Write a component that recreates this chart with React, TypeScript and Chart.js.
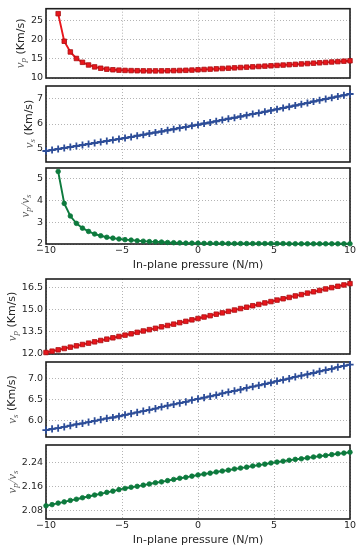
import React, { useEffect, useRef } from 'react';
import { Chart, registerables } from 'chart.js';

Chart.register(...registerables);

// ---------- data ----------
const pressure = [
  -10, -9.6, -9.2, -8.8, -8.4, -8, -7.6, -7.2, -6.8, -6.4,
  -6, -5.6, -5.2, -4.8, -4.4, -4, -3.6, -3.2, -2.8, -2.4,
  -2, -1.6, -1.2, -0.8, -0.4, 0, 0.4, 0.8, 1.2, 1.6,
  2, 2.4, 2.8, 3.2, 3.6, 4, 4.4, 4.8, 5.2, 5.6,
  6, 6.4, 6.8, 7.2, 7.6, 8, 8.4, 8.8, 9.2, 9.6,
  10,
];

const vpUpper = [
  null, null, 26.8, 19.6, 16.8, 15.1, 14.1, 13.4, 12.9, 12.55,
  12.3, 12.15, 12.05, 11.98, 11.93, 11.9, 11.87, 11.86, 11.86, 11.87,
  11.89, 11.92, 11.96, 12.01, 12.07, 12.15, 12.23, 12.31, 12.39, 12.48,
  12.56, 12.65, 12.74, 12.83, 12.92, 13.01, 13.1, 13.19, 13.29, 13.38,
  13.48, 13.57, 13.67, 13.77, 13.87, 13.97, 14.07, 14.18, 14.28, 14.39,
  14.5,
];

const vsUpper = [
  4.92, 4.96, 5.0, 5.04, 5.08, 5.12, 5.16, 5.2, 5.24, 5.28,
  5.32, 5.36, 5.4, 5.44, 5.48, 5.53, 5.57, 5.62, 5.66, 5.7,
  5.75, 5.79, 5.84, 5.88, 5.93, 5.97, 6.02, 6.06, 6.11, 6.16,
  6.21, 6.25, 6.3, 6.35, 6.4, 6.44, 6.49, 6.54, 6.59, 6.64,
  6.69, 6.74, 6.79, 6.84, 6.9, 6.95, 7.0, 7.05, 7.1, 7.15,
  7.2,
];

const ratioUpper = [
  null, null, 5.34, 3.87, 3.29, 2.95, 2.73, 2.58, 2.46, 2.38,
  2.31, 2.27, 2.23, 2.2, 2.18, 2.15, 2.13, 2.11, 2.1, 2.09,
  2.07, 2.06, 2.05, 2.04, 2.04, 2.04, 2.03, 2.03, 2.03, 2.03,
  2.02, 2.02, 2.02, 2.02, 2.02, 2.02, 2.02, 2.02, 2.02, 2.02,
  2.01, 2.01, 2.01, 2.01, 2.01, 2.01, 2.01, 2.01, 2.01, 2.01,
  2.01,
];

const vpLower = [
  12.1, 12.19, 12.28, 12.37, 12.46, 12.55, 12.64, 12.73, 12.82, 12.91,
  13.0, 13.09, 13.18, 13.27, 13.36, 13.46, 13.55, 13.64, 13.73, 13.83,
  13.92, 14.01, 14.11, 14.2, 14.3, 14.39, 14.49, 14.58, 14.68, 14.77,
  14.87, 14.96, 15.06, 15.15, 15.25, 15.34, 15.44, 15.53, 15.63, 15.72,
  15.81, 15.91, 16.0, 16.1, 16.19, 16.28, 16.38, 16.47, 16.56, 16.65,
  16.74,
];

const vsLower = [
  5.78, 5.81, 5.83, 5.86, 5.89, 5.92, 5.94, 5.97, 6.0, 6.03,
  6.06, 6.08, 6.11, 6.14, 6.17, 6.2, 6.23, 6.26, 6.29, 6.33,
  6.36, 6.39, 6.42, 6.45, 6.49, 6.52, 6.55, 6.58, 6.61, 6.65,
  6.68, 6.71, 6.74, 6.78, 6.81, 6.84, 6.87, 6.9, 6.94, 6.97,
  7.0, 7.04, 7.07, 7.1, 7.13, 7.17, 7.2, 7.23, 7.27, 7.3,
  7.33,
];

const ratioLower = [
  2.097, 2.101, 2.106, 2.11, 2.115, 2.119, 2.124, 2.128, 2.133, 2.137,
  2.142, 2.146, 2.151, 2.155, 2.159, 2.162, 2.166, 2.17, 2.174, 2.177,
  2.181, 2.185, 2.189, 2.192, 2.196, 2.2, 2.203, 2.206, 2.21, 2.213,
  2.216, 2.22, 2.223, 2.226, 2.23, 2.233, 2.236, 2.24, 2.243, 2.246,
  2.249, 2.252, 2.254, 2.257, 2.26, 2.263, 2.265, 2.268, 2.271, 2.273,
  2.276,
];

const xTicks = [-10, -5, 0, 5, 10];
const vpUpperTicks = [10, 15, 20, 25];
const vsUpperTicks = [5, 6, 7];
const ratioUpperTicks = [2, 3, 4, 5];
const vpLowerTicks = [12.0, 13.5, 15.0, 16.5];
const vsLowerTicks = [6.0, 6.5, 7.0];
const ratioLowerTicks = [2.08, 2.16, 2.24];

const xTitle = 'In-plane pressure (N/m)';

// ---------- styling ----------
const RED = '#e8161c';
const BLUE = '#2d4d98';
const GREEN = '#0d7a3d';
const TEXT = '#262626';
const MATH = '#5a5a5a';
const FONT = '"DejaVu Sans", sans-serif';

type Part = { t: string; k: 'math' | 'sub' | 'text' };

const partsVelocity = (sub: string): Part[] => [
  { t: 'v', k: 'math' },
  { t: sub, k: 'sub' },
  { t: ' (Km/s)', k: 'text' },
];
const partsRatio: Part[] = [
  { t: 'v', k: 'math' },
  { t: 'p', k: 'sub' },
  { t: '/', k: 'math' },
  { t: 'v', k: 'math' },
  { t: 's', k: 'sub' },
];

type Panel = {
  top: number; // chart area top
  bottom: number; // chart area bottom
  values: (number | null)[];
  yMin: number;
  yMax: number;
  yTicks: number[];
  dec: number;
  color: string;
  marker: 'rect' | 'cross' | 'circle';
  showX: boolean;
  titleParts: Part[];
  titleX: number;
};

const panels: Panel[] = [
  { top: 3, bottom: 78, values: vpUpper, yMin: 10, yMax: 28.1, yTicks: vpUpperTicks, dec: 0, color: RED, marker: 'rect', showX: false, titleParts: partsVelocity('p'), titleX: 21 },
  { top: 86, bottom: 162, values: vsUpper, yMin: 4.48, yMax: 7.52, yTicks: vsUpperTicks, dec: 0, color: BLUE, marker: 'cross', showX: false, titleParts: partsVelocity('s'), titleX: 29.5 },
  { top: 168, bottom: 244, values: ratioUpper, yMin: 2, yMax: 5.5, yTicks: ratioUpperTicks, dec: 0, color: GREEN, marker: 'circle', showX: true, titleParts: partsRatio, titleX: 25.5 },
  { top: 279, bottom: 354, values: vpLower, yMin: 12, yMax: 17.05, yTicks: vpLowerTicks, dec: 1, color: RED, marker: 'rect', showX: false, titleParts: partsVelocity('p'), titleX: 12.5 },
  { top: 362, bottom: 437, values: vsLower, yMin: 5.62, yMax: 7.39, yTicks: vsLowerTicks, dec: 1, color: BLUE, marker: 'cross', showX: false, titleParts: partsVelocity('s'), titleX: 12.5 },
  { top: 445, bottom: 519, values: ratioLower, yMin: 2.053, yMax: 2.3, yTicks: ratioLowerTicks, dec: 2, color: GREEN, marker: 'circle', showX: true, titleParts: partsRatio, titleX: 12.5 },
];

const X_AXIS_H = 28;

function fmtMinus(v: number) {
  return v < 0 ? '\u2212' + Math.abs(v) : String(v);
}

function PanelChart({ p }: { p: Panel }) {
  const ref = useRef<HTMLCanvasElement>(null);
  const padTop = Math.min(10, p.top);
  const canvasTop = p.top - padTop;
  const padBottom = p.showX ? 0 : 10;
  const height = padTop + (p.bottom - p.top) + (p.showX ? X_AXIS_H : 10);

  useEffect(() => {
    if (!ref.current) return;

    const framePlugin = {
      id: 'frame',
      beforeDatasetsDraw(chart: any) {
        const { ctx, chartArea: a } = chart;
        ctx.save();
        ctx.strokeStyle = '#1e1e1e';
        ctx.lineWidth = 1.6;
        ctx.strokeRect(a.left, a.top, a.right - a.left, a.bottom - a.top);
        ctx.restore();
      },
    };

    const titlePlugin = {
      id: 'ytitle',
      afterDraw(chart: any) {
        const { ctx, chartArea: a } = chart;
        const fontFor = (k: string) =>
          k === 'math'
            ? 'italic 13px "Liberation Serif", serif'
            : k === 'sub'
            ? 'italic 9px "Liberation Serif", serif'
            : `11px ${FONT}`;
        ctx.save();
        ctx.translate(p.titleX, (a.top + a.bottom) / 2);
        ctx.rotate(-Math.PI / 2);
        ctx.textBaseline = 'middle';
        ctx.textAlign = 'left';
        let total = 0;
        const widths = p.titleParts.map((part) => {
          ctx.font = fontFor(part.k);
          const w = ctx.measureText(part.t).width;
          total += w;
          return w;
        });
        let cx = -total / 2;
        p.titleParts.forEach((part, i) => {
          ctx.font = fontFor(part.k);
          ctx.fillStyle = part.k === 'text' ? TEXT : MATH;
          ctx.fillText(part.t, cx, part.k === 'sub' ? 3 : 0);
          cx += widths[i];
        });
        ctx.restore();
      },
    };

    const chart = new Chart(ref.current, {
      type: 'line',
      data: {
        datasets: [
          {
            data: pressure.map((x, i) => ({ x, y: p.values[i] })) as any,
            borderColor: p.color,
            backgroundColor: p.color,
            borderWidth: 1.9,
            pointStyle: p.marker,
            pointRadius: p.marker === 'rect' ? 3.2 : p.marker === 'cross' ? 3.6 : 2.3,
            pointBackgroundColor: p.color,
            pointBorderColor: p.marker === 'rect' ? '#a80f12' : p.color,
            pointBorderWidth: p.marker === 'cross' ? 1.8 : 0.8,
            tension: 0,
            spanGaps: false,
            clip: false as any,
          },
        ],
      },
      options: {
        animation: false,
        responsive: false,
        devicePixelRatio: 1,
        events: [],
        layout: { padding: { top: padTop, bottom: padBottom, left: 0, right: 10 } },
        plugins: {
          legend: { display: false },
          tooltip: { enabled: false },
        },
        scales: {
          x: {
            type: 'linear',
            min: -10,
            max: 10,
            afterBuildTicks: (s: any) => {
              s.ticks = xTicks.map((v) => ({ value: v }));
            },
            afterFit: (s: any) => {
              s.height = p.showX ? X_AXIS_H : 0;
            },
            ticks: {
              display: p.showX,
              padding: 1,
              maxRotation: 0,
              autoSkip: false,
              color: TEXT,
              font: { family: FONT, size: 9.5 },
              callback: (v: any) => fmtMinus(Number(v)),
            },
            grid: { color: '#b4b4b4', lineWidth: 1, drawTicks: false },
            border: { display: false, dash: [1, 2] },
            title: {
              display: p.showX,
              text: xTitle,
              color: TEXT,
              font: { family: FONT, size: 11 },
              padding: { top: 0, bottom: 0 },
            },
          },
          y: {
            type: 'linear',
            min: p.yMin,
            max: p.yMax,
            afterBuildTicks: (s: any) => {
              s.ticks = p.yTicks.map((v) => ({ value: v }));
            },
            afterFit: (s: any) => {
              s.width = 46;
            },
            ticks: {
              padding: 3,
              color: TEXT,
              font: { family: FONT, size: 9.5 },
              callback: (v: any) => Number(v).toFixed(p.dec),
            },
            grid: { color: '#b4b4b4', lineWidth: 1, drawTicks: false },
            border: { display: false, dash: [1, 2] },
          },
        },
      },
      plugins: [framePlugin, titlePlugin],
    } as any);

    return () => chart.destroy();
  }, []);

  return (
    <canvas
      ref={ref}
      width={360}
      height={height}
      style={{ position: 'absolute', left: 0, top: canvasTop, width: 360, height }}
    />
  );
}

export default function App() {
  return (
    <div style={{ position: 'absolute', left: 0, top: 0, width: 360, height: 550, background: '#fff' }}>
      {panels.map((p, i) => (
        <PanelChart key={i} p={p} />
      ))}
    </div>
  );
}
